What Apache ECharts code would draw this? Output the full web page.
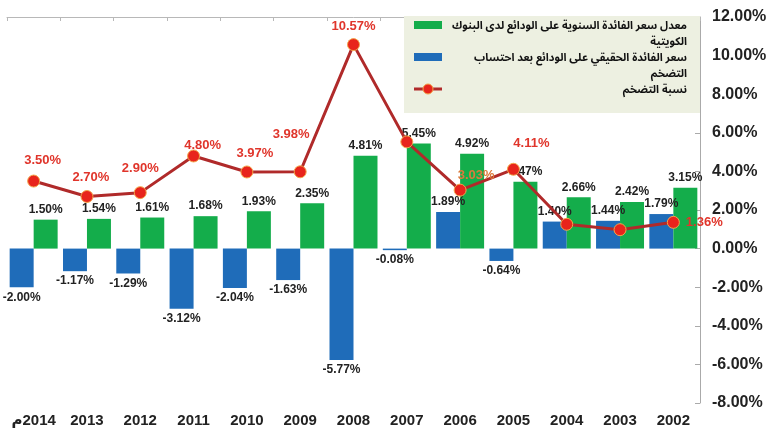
<!DOCTYPE html>
<html>
<head>
<meta charset="utf-8">
<script src="https://cdn.jsdelivr.net/npm/echarts@6/dist/echarts.min.js"></script>
<style>
html,body{margin:0;padding:0;background:#fff}
#main{width:770px;height:441px}
</style>
</head>
<body>
<div id="main"></div>
<script>
var years = ['2014م','2013','2012','2011','2010','2009','2008','2007','2006','2005','2004','2003','2002'];
var nominalRate = [1.50,1.54,1.61,1.68,1.93,2.35,4.81,5.45,4.92,3.47,2.66,2.42,3.15];
var realRate = [-2.00,-1.17,-1.29,-3.12,-2.04,-1.63,-5.77,-0.08,1.89,-0.64,1.40,1.44,1.79];
var inflation = [3.50,2.70,2.90,4.80,3.97,3.98,10.57,5.53,3.03,4.11,1.26,0.98,1.36];

var nameNominal = 'معدل سعر الفائدة السنوية على الودائع لدى البنوك\nالكويتية';
var nameReal = 'سعر الفائدة الحقيقي على الودائع بعد احتساب\nالتضخم';
var nameInfl = 'نسبة التضخم';

var colReal = '#1f6cb9', colNominal = '#14ad4b', colLine = '#b02a2a', colDot = '#e8241c', colDotBorder = '#f2a54a';

// label tweaks for the inflation line (by year)
var inflHidden = {2007:1, 2004:1, 2003:1};
var inflShift = {2014:[9,-3], 2013:[4,-1], 2012:[0,-6], 2011:[9,7], 2010:[8,-1], 2009:[-9,-19], 2006:[16,3], 2005:[18,-8]};

var font = 'Arial, "Liberation Sans", "DejaVu Sans", sans-serif';
var arFont = '"Noto Sans Arabic", "DejaVu Sans", sans-serif';
var pct = function(p){ return p.value.toFixed(2) + '%'; };

// biggest legend font that keeps the longest line inside the box
var legendTextW = 240;
function fitSize(){
  var ctx = document.createElement('canvas').getContext('2d');
  var lines = (nameNominal + '\n' + nameReal + '\n' + nameInfl).split('\n');
  for (var s = 13; s > 9; s -= 0.25) {
    ctx.font = 'bold ' + s + 'px ' + arFont;
    var w = Math.max.apply(null, lines.map(function(l){ return ctx.measureText(l).width; }));
    if (w <= legendTextW) return s;
  }
  return 9;
}
var legendSize = fitSize();

var inflData = inflation.map(function(v, i){
  var y = parseInt(years[i], 10);
  var item = {value: v};
  if (inflHidden[y]) item.label = {show: false};
  else if (y === 2002) item.label = {position: 'right', distance: 6};
  else if (inflShift[y]) item.label = {offset: inflShift[y]};
  if (y === 2006) item.label.color = '#dc7a3c';
  return item;
});

// legend box drawn by hand (right-to-left text, icon on the left of first line)
var lgRight = 700, lgTop = 16, lgTextX = 687, rowH = 16;
var lgLeft = lgTextX - legendTextW - 33 - 10;
var iconX = lgLeft + 10;
function legendText(name, rowY){
  return {type: 'text', x: lgTextX, y: rowY - rowH / 2 + 2, z: 101,
    style: {text: name, align: 'right', verticalAlign: 'top', lineHeight: rowH,
      fontSize: legendSize, fontWeight: 'bold', fontFamily: arFont, fill: '#111'}};
}
var legendGraphic = [
  {type: 'rect', x: lgLeft, y: lgTop, z: 100, shape: {width: lgRight - lgLeft, height: 97}, style: {fill: '#edf0e1'}},
  {type: 'rect', x: iconX, y: 25 - 4, z: 101, shape: {width: 28, height: 8}, style: {fill: colNominal}},
  legendText(nameNominal, 25),
  {type: 'rect', x: iconX, y: 57 - 4, z: 101, shape: {width: 28, height: 8}, style: {fill: colReal}},
  legendText(nameReal, 57),
  {type: 'line', z: 101, shape: {x1: iconX, y1: 89, x2: iconX + 28, y2: 89}, style: {stroke: colLine, lineWidth: 3}},
  {type: 'circle', z: 102, shape: {cx: iconX + 14, cy: 89, r: 5}, style: {fill: colDot, stroke: colDotBorder, lineWidth: 1}},
  legendText(nameInfl, 89)
];

var myChart = echarts.init(document.getElementById('main'));
var option = {
  animation: false,
  textStyle: {fontFamily: font},
  grid: {left: 7, right: 70, top: 17, bottom: 38},
  graphic: legendGraphic,
  xAxis: [{
    type: 'category',
    data: years,
    position: 'bottom',
    axisLine: {show: false},
    axisTick: {show: false},
    axisLabel: {
      interval: 0, margin: 10, fontSize: 15, fontWeight: 'bold', color: '#222',
      formatter: function(v){ return '\u200F' + v; }
    }
  }, {
    type: 'category',
    data: years,
    position: 'top',
    axisLine: {onZero: true, lineStyle: {color: '#b8b8b8', width: 1}},
    axisTick: {show: true, inside: true, interval: 0, length: 4, lineStyle: {color: '#b8b8b8'}},
    axisLabel: {show: false}
  }],
  yAxis: {
    type: 'value',
    position: 'right',
    min: -8,
    max: 12,
    interval: 2,
    axisLine: {show: true, lineStyle: {color: '#aaa'}},
    axisTick: {show: true, inside: true, length: 5, lineStyle: {color: '#aaa'}},
    splitLine: {show: false},
    axisLabel: {
      margin: 12, fontSize: 16, fontWeight: 'bold', color: '#222',
      formatter: function(v){ return v.toFixed(2) + '%'; }
    }
  },
  series: [{
    name: nameReal,
    type: 'bar',
    data: realRate,
    barGap: '0%',
    barCategoryGap: '10%',
    itemStyle: {color: colReal},
    label: {show: true, position: 'outside', distance: 4, formatter: pct, fontSize: 12, fontWeight: 'bold', color: '#222'}
  }, {
    name: nameNominal,
    type: 'bar',
    data: nominalRate,
    barGap: '0%',
    barCategoryGap: '10%',
    itemStyle: {color: colNominal},
    label: {show: true, position: 'top', distance: 4, formatter: pct, fontSize: 12, fontWeight: 'bold', color: '#222'}
  }, {
    name: nameInfl,
    type: 'line',
    data: inflData,
    symbol: 'circle',
    symbolSize: 12,
    lineStyle: {color: colLine, width: 3},
    itemStyle: {color: colDot, borderColor: colDotBorder, borderWidth: 1},
    label: {show: true, position: 'top', distance: 5, formatter: pct, fontSize: 13, fontWeight: 'bold', color: '#e0352b'},
    z: 3
  }]
};
myChart.setOption(option);
</script>
</body>
</html>
